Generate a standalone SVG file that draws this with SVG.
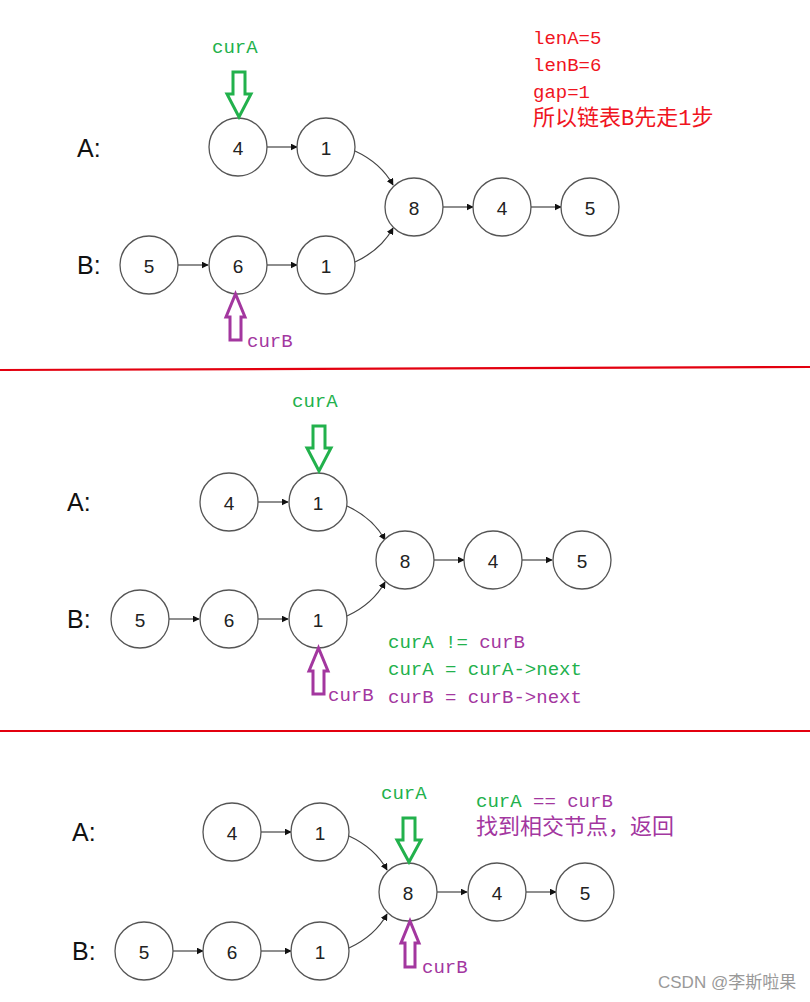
<svg xmlns="http://www.w3.org/2000/svg" width="810" height="1002" viewBox="0 0 810 1002">
<style>
.n circle{fill:#fff;stroke:#555;stroke-width:1.3}
.n text{font-family:"Liberation Sans",Arial,sans-serif;font-size:19px;fill:#222;text-anchor:middle;dominant-baseline:central}
.lbl{font-family:"Liberation Sans",Arial,sans-serif;font-size:25px;fill:#111;dominant-baseline:central}
.e{fill:none;stroke:#444;stroke-width:1.2;marker-end:url(#ah)}
.code{font-family:"Liberation Mono","Noto Sans CJK SC",monospace;font-size:19px}
.cn{font-family:"Liberation Mono","Noto Sans CJK SC",monospace;font-size:22px}
.g{fill:#22b14c}
.p{fill:#a3379f}
.r{fill:#f0141e}
.ga{fill:none;stroke:#22b14c;stroke-width:3}
.pa{fill:none;stroke:#a3379f;stroke-width:3}
.sep{stroke:#e3000f;stroke-width:2.2}
</style>
<defs>
<marker id="ah" viewBox="0 0 10 10" refX="9" refY="5" markerWidth="7" markerHeight="7" markerUnits="userSpaceOnUse" orient="auto">
<path d="M0,0 L10,5 L0,10 z" fill="#111"/>
</marker>
</defs>
<rect width="810" height="1002" fill="#fff"/>

<!-- Panel 1 -->
<g id="panel1">
<text class="lbl" x="77" y="148">A:</text>
<text class="lbl" x="77" y="265">B:</text>
<g id="p1-edges">
<path class="e" d="M267,147 L297,147"/>
<path class="e" d="M355,151 Q381,163 393,185"/>
<path class="e" d="M178,265 L208,265"/>
<path class="e" d="M267,265 L297,265"/>
<path class="e" d="M355,262 Q381,250 393,228"/>
<path class="e" d="M443,207 L473,207"/>
<path class="e" d="M531,207 L561,207"/>
</g>
<g id="p1-a4" class="n"><circle cx="238" cy="147" r="29"/><text x="238" y="148">4</text></g>
<g id="p1-a1" class="n"><circle cx="326" cy="147" r="29"/><text x="326" y="148">1</text></g>
<g id="p1-c8" class="n"><circle cx="414" cy="207" r="29"/><text x="414" y="208">8</text></g>
<g id="p1-c4" class="n"><circle cx="502" cy="207" r="29"/><text x="502" y="208">4</text></g>
<g id="p1-c5" class="n"><circle cx="590" cy="207" r="29"/><text x="590" y="208">5</text></g>
<g id="p1-b5" class="n"><circle cx="149" cy="265" r="29"/><text x="149" y="266">5</text></g>
<g id="p1-b6" class="n"><circle cx="238" cy="265" r="29"/><text x="238" y="266">6</text></g>
<g id="p1-b1" class="n"><circle cx="326" cy="265" r="29"/><text x="326" y="266">1</text></g>
<g id="p1-curA">
<text class="code g" x="212" y="53">curA</text>
<path class="ga" d="M233,72 L245,72 L245,94 L251,94 L239,117 L227,94 L233,94 Z"/>
</g>
<g id="p1-curB">
<path class="pa" d="M230,340 L241,340 L241,317 L245,317 L235.5,294 L226,317 L230,317 Z"/>
<text class="code p" x="247" y="347">curB</text>
</g>
<g id="p1-note">
<text class="code r" x="533" y="44">lenA=5</text>
<text class="code r" x="533" y="71">lenB=6</text>
<text class="code r" x="533" y="98">gap=1</text>
<text class="cn r" x="533" y="125">所以链表B先走1步</text>
</g>
</g>

<line class="sep" x1="0" y1="370" x2="810" y2="367"/>

<!-- Panel 2 -->
<g id="panel2">
<text class="lbl" x="67" y="502">A:</text>
<text class="lbl" x="67" y="619">B:</text>
<g id="p2-edges">
<path class="e" d="M258,502 L288,502"/>
<path class="e" d="M347,506 Q373,518 385,540"/>
<path class="e" d="M169,619 L199,619"/>
<path class="e" d="M258,619 L288,619"/>
<path class="e" d="M347,616 Q373,604 385,582"/>
<path class="e" d="M434,560 L464,560"/>
<path class="e" d="M522,560 L552,560"/>
</g>
<g id="p2-a4" class="n"><circle cx="229" cy="502" r="29"/><text x="229" y="503">4</text></g>
<g id="p2-a1" class="n"><circle cx="318" cy="502" r="29"/><text x="318" y="503">1</text></g>
<g id="p2-c8" class="n"><circle cx="405" cy="560" r="29"/><text x="405" y="561">8</text></g>
<g id="p2-c4" class="n"><circle cx="493" cy="560" r="29"/><text x="493" y="561">4</text></g>
<g id="p2-c5" class="n"><circle cx="582" cy="560" r="29"/><text x="582" y="561">5</text></g>
<g id="p2-b5" class="n"><circle cx="140" cy="619" r="29"/><text x="140" y="620">5</text></g>
<g id="p2-b6" class="n"><circle cx="229" cy="619" r="29"/><text x="229" y="620">6</text></g>
<g id="p2-b1" class="n"><circle cx="318" cy="619" r="29"/><text x="318" y="620">1</text></g>
<g id="p2-curA">
<text class="code g" x="292" y="407">curA</text>
<path class="ga" d="M313,426 L325,426 L325,448 L331,448 L319,471 L307,448 L313,448 Z"/>
</g>
<g id="p2-curB">
<path class="pa" d="M313,694 L324,694 L324,671 L328,671 L318.5,648 L309,671 L313,671 Z"/>
<text class="code p" x="328" y="701">curB</text>
</g>
<g id="p2-note">
<text class="code" x="388" y="648"><tspan class="g">curA != </tspan><tspan class="p">curB</tspan></text>
<text class="code g" x="388" y="675">curA = curA-&gt;next</text>
<text class="code p" x="388" y="703">curB = curB-&gt;next</text>
</g>
</g>

<line class="sep" x1="0" y1="731" x2="810" y2="731"/>

<!-- Panel 3 -->
<g id="panel3">
<text class="lbl" x="72" y="832">A:</text>
<text class="lbl" x="72" y="951">B:</text>
<g id="p3-edges">
<path class="e" d="M261,832 L291,832"/>
<path class="e" d="M349,836 Q375,848 387,870"/>
<path class="e" d="M173,951 L203,951"/>
<path class="e" d="M261,951 L291,951"/>
<path class="e" d="M349,948 Q375,936 387,914"/>
<path class="e" d="M437,892 L467,892"/>
<path class="e" d="M526,892 L556,892"/>
</g>
<g id="p3-a4" class="n"><circle cx="232" cy="832" r="29"/><text x="232" y="833">4</text></g>
<g id="p3-a1" class="n"><circle cx="320" cy="832" r="29"/><text x="320" y="833">1</text></g>
<g id="p3-c8" class="n"><circle cx="408" cy="892" r="29"/><text x="408" y="893">8</text></g>
<g id="p3-c4" class="n"><circle cx="497" cy="892" r="29"/><text x="497" y="893">4</text></g>
<g id="p3-c5" class="n"><circle cx="585" cy="892" r="29"/><text x="585" y="893">5</text></g>
<g id="p3-b5" class="n"><circle cx="144" cy="951" r="29"/><text x="144" y="952">5</text></g>
<g id="p3-b6" class="n"><circle cx="232" cy="951" r="29"/><text x="232" y="952">6</text></g>
<g id="p3-b1" class="n"><circle cx="320" cy="951" r="29"/><text x="320" y="952">1</text></g>
<g id="p3-curA">
<text class="code g" x="381" y="799">curA</text>
<path class="ga" d="M403,818 L415,818 L415,840 L421,840 L409,862 L397,840 L403,840 Z"/>
</g>
<g id="p3-curB">
<path class="pa" d="M405,967 L415,967 L415,943 L419,943 L410,921 L401,943 L405,943 Z"/>
<text class="code p" x="422" y="973">curB</text>
</g>
<g id="p3-note">
<text class="code" x="476" y="807"><tspan class="g">curA </tspan><tspan class="p">== curB</tspan></text>
<text class="cn p" x="476" y="834">找到相交节点，返回</text>
</g>
</g>

<text x="658" y="988" font-family="'Liberation Sans','Noto Sans CJK SC',sans-serif" font-size="17" fill="#999">CSDN @李斯啦果</text>
</svg>
